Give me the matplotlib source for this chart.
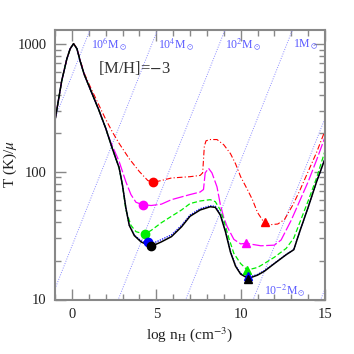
import numpy as np
import matplotlib
matplotlib.use("Agg")
import matplotlib.pyplot as plt
from matplotlib.ticker import LogLocator, MultipleLocator, NullFormatter, FixedLocator, FixedFormatter

plt.rcParams['font.family'] = 'serif'
plt.rcParams['font.serif'] = ['Liberation Serif', 'DejaVu Serif']
plt.rcParams['mathtext.fontset'] = 'stix'

# log n_H and T/mu, one set per metallicity track
black_x = [-1.0, -0.6, -0.3, -0.1, 0.1, 0.3, 0.5, 0.73, 1.1, 1.6, 2.0, 2.4, 2.8, 3.0, 3.2, 3.4,
           3.7, 4.1, 4.7, 5.3, 5.9, 6.5, 7.0, 7.6, 8.2, 8.5, 8.8, 9.1, 9.4, 9.7, 10.0, 10.45,
           11.0, 11.4, 12.0, 12.7, 13.15, 13.5, 14.0, 14.5, 15.0]
black_y = [251, 513, 759, 912, 1000, 912, 724, 575, 437, 302, 219, 151, 107, 78, 52, 38,
           31.6, 28.2, 26.0, 28.2, 31.0, 37.0, 44.7, 50.1, 53.1, 52.5, 45.7, 33.9, 23.4, 18.2, 15.8, 14.6,
           15.5, 16.6, 19.1, 22.4, 24.5, 33.9, 52.5, 83.2, 126]

blue_x = [-1.0, -0.6, -0.3, -0.1, 0.1, 0.3, 0.5, 0.73, 1.1, 1.6, 2.0, 2.4, 2.8, 3.0, 3.2, 3.4,
          3.7, 4.1, 4.5, 5.0, 5.9, 6.5, 7.0, 7.6, 8.2, 8.5, 8.8, 9.1, 9.4, 9.7, 10.0, 10.45,
          11.0, 11.4, 12.0, 12.7, 13.15, 13.5, 14.0, 14.5, 15.0]
blue_y = [251, 513, 759, 912, 1000, 912, 724, 575, 437, 302, 219, 151, 107, 78, 52, 38.2,
          31.9, 28.8, 27.4, 28.2, 32.0, 38.0, 45.7, 51.3, 54.0, 53.5, 46.5, 34.5, 23.8, 18.4, 16.0, 14.9,
          15.7, 16.8, 19.2, 22.5, 24.6, 33.9, 52.5, 83.2, 126]

green_x = [-1.0, -0.6, -0.3, -0.1, 0.1, 0.3, 0.5, 0.73, 1.1, 1.6, 2.0, 2.4, 2.8, 3.0, 3.2, 3.5,
           3.8, 4.32, 4.7, 5.3, 5.9, 6.5, 7.0, 7.6, 8.2, 8.5, 8.8, 9.0, 9.3, 9.6, 10.0, 10.4,
           11.0, 11.4, 12.0, 12.7, 13.15, 13.5, 14.0, 14.5, 15.0]
green_y = [251, 513, 759, 912, 1000, 912, 724, 575, 437, 302, 219, 151, 107, 78, 50.1, 38.0,
           33.9, 32.4, 34.7, 39.8, 44.7, 50.1, 56.2, 58.9, 60.3, 58.2, 50.1, 41.7, 30.2, 22.9, 19.1, 17.0,
           17.8, 19.1, 21.4, 25.1, 30.2, 39.8, 58.9, 89.1, 145]

magenta_x = [-1.0, -0.6, -0.3, -0.1, 0.1, 0.3, 0.5, 0.73, 1.1, 1.6, 2.0, 2.3, 2.8, 3.2, 3.5, 3.8,
             4.22, 4.7, 5.3, 5.9, 7.0, 7.6, 7.8, 7.9, 8.1, 8.3, 8.6, 8.8, 9.0, 9.2, 9.6, 10.0,
             10.3, 11.2, 12.0, 12.4, 13.0, 13.5, 14.0, 14.5, 15.0]
magenta_y = [251, 513, 759, 912, 1000, 912, 724, 575, 437, 302, 219, 170, 120, 83.2, 66.1, 57.5,
             55.0, 54.3, 55.6, 60.3, 66.1, 69.2, 72.4, 97.7, 106, 97.7, 75.9, 55.0, 43.7, 37.2, 29.5, 27.2,
             27.5, 26.3, 26.6, 29.2, 41.7, 58.9, 83.2, 123, 186]

red_x = [-1.0, -0.6, -0.3, -0.1, 0.1, 0.3, 0.5, 0.73, 1.1, 1.6, 2.0, 2.4, 2.8, 3.4, 4.0, 4.5,
         4.81, 5.3, 5.9, 7.0, 7.6, 7.75, 7.85, 7.95, 8.2, 8.6, 9.0, 9.4, 9.7, 10.0, 10.4, 10.7,
         11.0, 11.4, 11.8, 12.2, 12.6, 13.1, 13.5, 14.0, 14.5, 15.0]
red_y = [251, 513, 759, 912, 1000, 923, 741, 589, 457, 331, 257, 204, 166, 126, 100, 85.1,
         82.4, 85.1, 89.1, 91.2, 93.3, 97.7, 158, 174, 178, 178, 162, 138, 115, 91.2, 72.4, 60.3,
         47.9, 39.8, 38.5, 38.9, 42.2, 55.0, 70.8, 100, 141, 209]

# markers at the two minima of each track
circ_x = [4.81, 4.22, 4.32, 4.51, 4.71]
circ_y = [82.5, 55.0, 32.5, 28.3, 26.0]
tri_x = [11.45, 10.3, 10.4, 10.45, 10.45]
tri_y = [40.0, 27.5, 17.0, 15.2, 14.5]
track_colors = ['#ff0000', '#ff00ff', '#00ee00', '#0000ff', '#000000']

# Jeans mass lines, T ~ M^(2/3) n^(1/3)
jeans_logm = [6, 4, 2, 0, -2, -4]
jeans_zero = 2.75  # log T intercept of the 1e6 Msun line at log n = 0
mass_labels = ['10$^6$M$_\\odot$', '10$^4$M$_\\odot$', '10$^2$M$_\\odot$', '1M$_\\odot$']
mass_label_x = [1.15, 5.1, 9.05, 13.1]
low_label = '10$^{-2}$M$_\\odot$'

fig = plt.figure(figsize=(3.54, 3.54), dpi=100)
ax = fig.add_axes([55 / 354, 54.5 / 354, 270 / 354, 270 / 354])

xx = np.array([-1.0, 15.0])
for lm in jeans_logm:
    b = jeans_zero + 2.0 / 3.0 * (lm - 6)
    ax.plot(xx, 10 ** (xx / 3.0 + b), color='#8c8cff', lw=0.7, ls=(0, (1, 1.5)))

ax.plot(red_x, red_y, color=track_colors[0], lw=0.8, ls=(0, (5, 2, 1, 2)))
ax.plot(magenta_x, magenta_y, color=track_colors[1], lw=0.9, ls=(0, (9, 2)))
ax.plot(green_x, green_y, color=track_colors[2], lw=0.9, ls=(0, (4, 2)))
ax.plot(blue_x, blue_y, color=track_colors[3], lw=0.9, ls=(0, (1, 1)))
ax.plot(black_x, black_y, color=track_colors[4], lw=1.1)

for i in range(5):
    ax.plot(circ_x[i], circ_y[i], 'o', color=track_colors[i], ms=6, zorder=5)
    ax.plot(tri_x[i], tri_y[i], '^', color=track_colors[i], ms=6, zorder=5)

for lab, lx in zip(mass_labels, mass_label_x):
    ax.text(lx, 980, lab, color='#5a5aff', fontsize=8.5, va='center', ha='left')
ax.text(11.4, 11.8, low_label, color='#5a5aff', fontsize=8.5, va='center', ha='left')
ax.text(1.52, 645, '[M/H]=$-$3', color='#333333', fontsize=12, va='center', ha='left')

ax.set_yscale('log')
ax.set_xlim(-1, 15)
ax.set_ylim(10, 1290)

ax.xaxis.set_major_locator(MultipleLocator(5))
ax.xaxis.set_minor_locator(MultipleLocator(1))
ax.yaxis.set_major_locator(FixedLocator([10, 100, 1000]))
ax.yaxis.set_major_formatter(FixedFormatter(['10', '100', '1000']))
ax.yaxis.set_minor_locator(LogLocator(base=10, subs=range(2, 10)))
ax.yaxis.set_minor_formatter(NullFormatter())

for s in ax.spines.values():
    s.set_color('#888888')
    s.set_linewidth(1.5)
ax.tick_params(which='both', direction='in', top=True, right=True, color='#888888',
               labelsize=10.5, labelcolor='#222222')
ax.tick_params(which='major', length=8, width=1.0, pad=6)
ax.tick_params(which='minor', length=4, width=1.0)

ax.set_xlabel('log n$_{\\rm H}$ (cm$^{-3}$)', fontsize=11, color='#222222', labelpad=3)
ax.set_ylabel('T (K)/$\\mu$', fontsize=11, color='#222222')
ax.yaxis.set_label_coords(-0.135, 0.5)

fig.savefig('out.png', dpi=100)
